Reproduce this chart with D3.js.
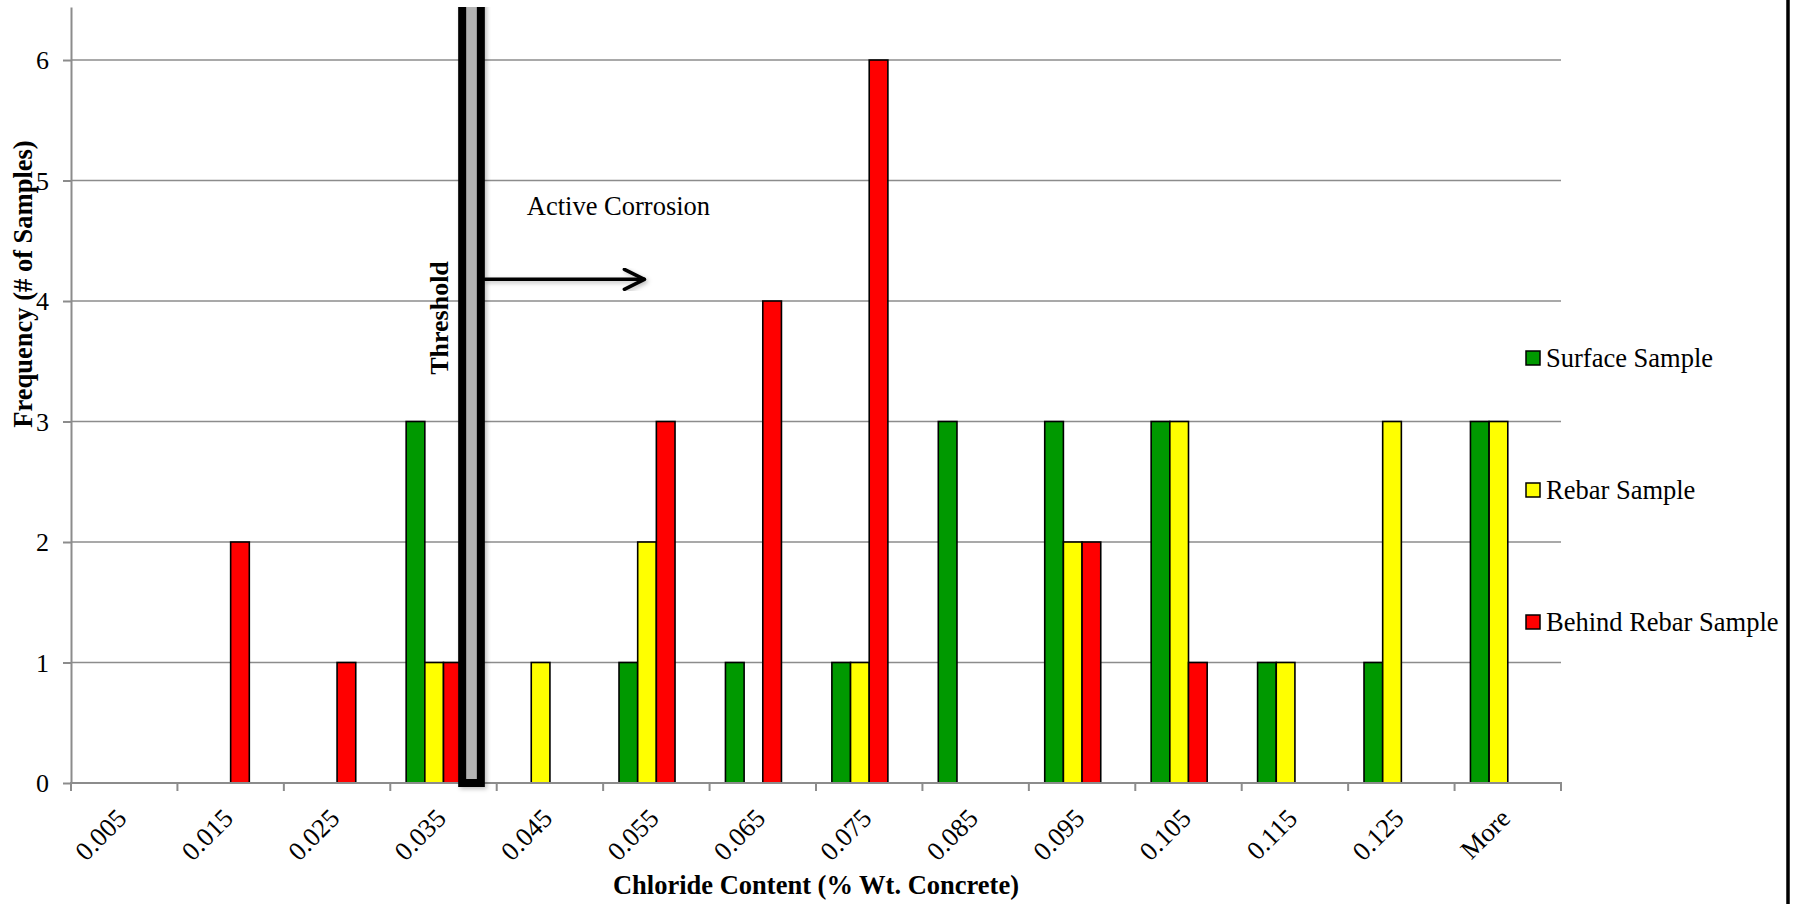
<!DOCTYPE html>
<html>
<head>
<meta charset="utf-8">
<script src="https://cdn.jsdelivr.net/npm/d3@7"></script>
<style>
  html, body { margin: 0; padding: 0; background: #fff; }
  svg { display: block; font-family: "Liberation Serif", "Times New Roman", serif; }
</style>
</head>
<body>
<svg id="chart" width="1793" height="904"></svg>
<script>
// Chloride content histogram bins
const categories = ["0.005", "0.015", "0.025", "0.035", "0.045", "0.055", "0.065",
                    "0.075", "0.085", "0.095", "0.105", "0.115", "0.125", "More"];

// Sample counts per bin
const surfaceSample     = [0, 0, 0, 3, 0, 1, 1, 1, 3, 3, 3, 1, 1, 3];
const rebarSample       = [0, 0, 0, 1, 1, 2, 0, 1, 0, 2, 3, 1, 3, 3];
const behindRebarSample = [0, 2, 1, 1, 0, 3, 4, 6, 0, 2, 1, 0, 0, 0];

// Threshold marker drawn as a full-height column in the 0.035 bin
const thresholdTop = 6.44;
const thresholdSeries = [0, 0, 0, thresholdTop, 0, 0, 0, 0, 0, 0, 0, 0, 0, 0];

const yTicks = [0, 1, 2, 3, 4, 5, 6];
const arrowLevel = 4.18;

const seriesNames = ["Surface Sample", "Rebar Sample", "Behind Rebar Sample", "Threshold"];
const seriesColors = ["#009900", "#ffff00", "#ff0000", "#b3b3b3"];
const seriesValues = [surfaceSample, rebarSample, behindRebarSample, thresholdSeries];

const svg = d3.select("#chart");
const W = 1793, H = 904;
const plot = { left: 71, right: 1561, top: 7, bottom: 783 };

const x = d3.scaleBand().domain(categories).range([plot.left, plot.right]).padding(0);
const xs = d3.scaleBand().domain(seriesNames).range([0, x.bandwidth()])
  .paddingInner(0).paddingOuter(0.85);
const y = d3.scaleLinear().domain([0, thresholdTop]).range([plot.bottom, plot.top]);

const defs = svg.append("defs");
defs.append("clipPath").attr("id", "plotClip")
  .append("rect")
  .attr("x", 0).attr("y", y(thresholdTop))
  .attr("width", W).attr("height", H);
const shadow = defs.append("filter").attr("id", "softShadow")
  .attr("x", "-50%").attr("y", "-5%").attr("width", "200%").attr("height", "110%");
shadow.append("feDropShadow").attr("dx", 2).attr("dy", 2)
  .attr("stdDeviation", 2).attr("flood-color", "#000").attr("flood-opacity", 0.25);

// Horizontal gridlines
svg.append("g").selectAll("line")
  .data(yTicks.filter(d => d > 0))
  .join("line")
  .attr("x1", plot.left).attr("x2", plot.right)
  .attr("y1", d => y(d)).attr("y2", d => y(d))
  .attr("stroke", "#8c8c8c").attr("stroke-width", 1.5);

// Data bars (three sample series)
const barData = [];
seriesValues.slice(0, 3).forEach((vals, si) => {
  vals.forEach((v, ci) => {
    if (v > 0) barData.push({ cat: categories[ci], series: seriesNames[si], value: v, color: seriesColors[si] });
  });
});
svg.append("g").selectAll("rect")
  .data(barData)
  .join("rect")
  .attr("x", d => x(d.cat) + xs(d.series))
  .attr("y", d => y(d.value))
  .attr("width", xs.bandwidth())
  .attr("height", d => y(0) - y(d.value))
  .attr("fill", d => d.color)
  .attr("stroke", "#000")
  .attr("stroke-width", 1.6);

// Y axis
const yAxis = svg.append("g")
  .attr("transform", `translate(${plot.left},0)`)
  .call(d3.axisLeft(y).tickValues(yTicks).tickSize(8).tickSizeOuter(0).tickPadding(14)
    .tickFormat(d3.format("d")));
yAxis.select(".domain").attr("stroke", "#8c8c8c").attr("stroke-width", 2);
yAxis.selectAll(".tick line").attr("stroke", "#8c8c8c").attr("stroke-width", 2);
yAxis.selectAll(".tick text")
  .attr("font-size", 26).attr("fill", "#000")
  .attr("font-family", "Liberation Serif").attr("dy", "0.34em");

// X axis: labels at bin centres, tick marks at bin boundaries
const xAxis = svg.append("g")
  .attr("transform", `translate(0,${plot.bottom})`)
  .call(d3.axisBottom(x).tickSize(0).tickSizeOuter(0));
xAxis.select(".domain").remove();
xAxis.selectAll(".tick text")
  .attr("font-size", 26.5).attr("fill", "#000")
  .attr("font-family", "Liberation Serif")
  .attr("y", null).attr("dy", null)
  .attr("text-anchor", "end")
  .attr("transform", "translate(4,37) rotate(-45)");

const boundaries = categories.map(c => x(c)).concat([x.range()[1]]);
svg.append("line")
  .attr("x1", plot.left - 1).attr("x2", plot.right + 1)
  .attr("y1", plot.bottom).attr("y2", plot.bottom)
  .attr("stroke", "#8c8c8c").attr("stroke-width", 2);
svg.append("g").selectAll("line")
  .data(boundaries)
  .join("line")
  .attr("x1", d => d).attr("x2", d => d)
  .attr("y1", plot.bottom).attr("y2", plot.bottom + 8)
  .attr("stroke", "#8c8c8c").attr("stroke-width", 2);

// Threshold column
const thrIdx = thresholdSeries.findIndex(v => v > 0);
svg.append("g").attr("clip-path", "url(#plotClip)")
  .append("rect")
  .datum({ cat: categories[thrIdx], value: thresholdSeries[thrIdx] })
  .attr("x", d => x(d.cat) + xs("Threshold"))
  .attr("y", d => y(d.value) - 10)
  .attr("width", xs.bandwidth())
  .attr("height", d => y(0) - y(d.value) + 10)
  .attr("fill", "#b3b3b3")
  .attr("stroke", "#000")
  .attr("stroke-width", 8)
  .attr("filter", "url(#softShadow)");

svg.append("text")
  .attr("transform", `translate(${x(categories[thrIdx]) + xs("Threshold") - 14},318) rotate(-90)`)
  .attr("text-anchor", "middle")
  .attr("font-size", 26).attr("font-weight", "bold")
  .text("Threshold");

// Active corrosion arrow
const arrowStart = x(categories[thrIdx]) + xs("Threshold") + xs.bandwidth() + 4;
const arrowEnd = x(categories[5]) + xs("Behind Rebar Sample") - 12;
const ay = y(arrowLevel);
const arrow = svg.append("g").attr("filter", "url(#softShadow)")
  .attr("stroke", "#000").attr("stroke-width", 3.5).attr("fill", "none")
  .attr("stroke-linecap", "round").attr("stroke-linejoin", "round");
arrow.append("line").attr("x1", arrowStart).attr("x2", arrowEnd).attr("y1", ay).attr("y2", ay);
arrow.append("path").attr("d", `M${arrowEnd - 20},${ay - 10}L${arrowEnd},${ay}L${arrowEnd - 20},${ay + 10}`);

svg.append("text")
  .attr("x", arrowStart + 42).attr("y", ay - 64)
  .attr("font-size", 26.5)
  .text("Active Corrosion");

// Axis titles
svg.append("text")
  .attr("transform", "translate(32,284) rotate(-90)")
  .attr("text-anchor", "middle")
  .attr("font-size", 26.5).attr("font-weight", "bold")
  .text("Frequency (# of Samples)");

svg.append("text")
  .attr("x", (plot.left + plot.right) / 2).attr("y", 894)
  .attr("text-anchor", "middle")
  .attr("font-size", 26.5).attr("font-weight", "bold")
  .text("Chloride Content (% Wt. Concrete)");

// Legend (sample series only)
const legendY = d3.scaleLinear().domain([0, 2]).range([358, 622]);
const legend = svg.append("g").selectAll("g")
  .data(seriesNames.slice(0, 3))
  .join("g")
  .attr("transform", (d, i) => `translate(1526,${legendY(i)})`);
legend.append("rect")
  .attr("x", 0).attr("y", -7).attr("width", 14).attr("height", 14)
  .attr("fill", (d, i) => seriesColors[i])
  .attr("stroke", "#000").attr("stroke-width", 1.5);
legend.append("text")
  .attr("x", 20).attr("dy", "0.35em")
  .attr("font-size", 26.5)
  .text(d => d);

// Right frame edge
svg.append("line")
  .attr("x1", 1788).attr("x2", 1788).attr("y1", 0).attr("y2", H)
  .attr("stroke", "#000").attr("stroke-width", 3.5);
</script>
</body>
</html>
